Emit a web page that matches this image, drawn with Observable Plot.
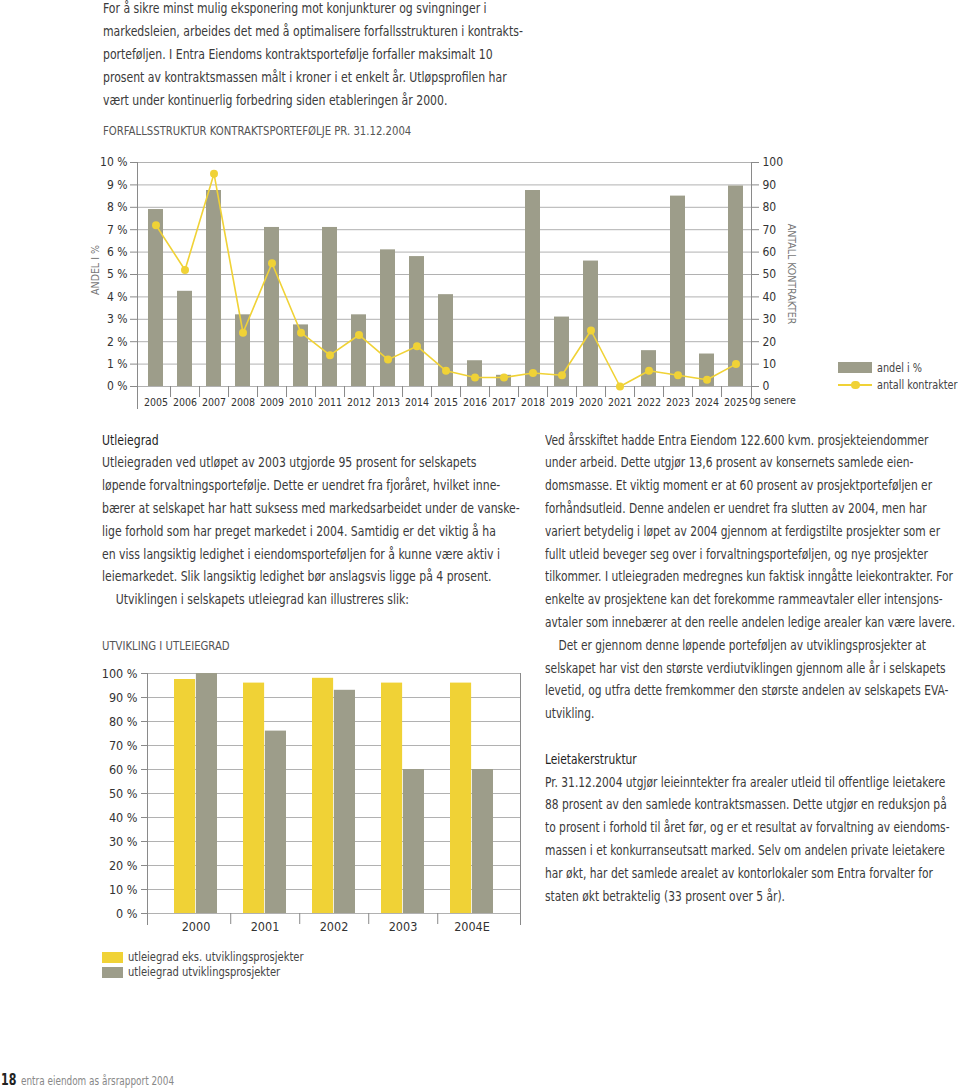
<!DOCTYPE html>
<html><head><meta charset="utf-8">
<script src="https://cdn.jsdelivr.net/npm/d3@7"></script>
<script src="https://cdn.jsdelivr.net/npm/@observablehq/plot@0.6"></script>
<style>
body{margin:0;background:#fff;}
#page{position:relative;width:960px;height:1091px;overflow:hidden;font-family:"Liberation Sans Narrow","DejaVu Sans Condensed","Arial Narrow",sans-serif;color:#3a3a3a;}
.blk{position:absolute;font-size:14px;line-height:22.8px;white-space:nowrap;transform:scaleX(0.865);transform-origin:0 0;}
.blkR{transform:scaleX(0.848);}
.head{color:#1e1e1e;}
.ind{padding-left:16px;}
.ctitle{position:absolute;font-size:13px;color:#555;white-space:nowrap;transform:scaleX(0.865);transform-origin:0 0;}
.abs{position:absolute;}
.lg{position:absolute;font-size:12.5px;color:#444;white-space:nowrap;line-height:14px;transform:scaleX(0.86);transform-origin:0 0;}
.lg2{transform:scaleX(0.885);}
.rot{position:absolute;font-size:10.5px;color:#777;white-space:nowrap;}
</style>
</head><body><div id="page">

<div class="blk" style="left:103px;top:-3px;line-height:23px;">
For å sikre minst mulig eksponering mot konjunkturer og svingninger i<br>
markedsleien, arbeides det med å optimalisere forfallsstrukturen i kontrakts-<br>
porteføljen. I Entra Eiendoms kontraktsportefølje forfaller maksimalt 10<br>
prosent av kontraktsmassen målt i kroner i et enkelt år. Utløpsprofilen har<br>
vært under kontinuerlig forbedring siden etableringen år 2000.
</div>

<div class="ctitle" style="left:103px;top:123px;">FORFALLSSTRUKTUR KONTRAKTSPORTEFØLJE PR. 31.12.2004</div>
<div class="rot" style="left:95px;top:270px;transform:translate(-50%,-50%) rotate(-90deg);">ANDEL I %</div>
<div class="rot" style="left:792px;top:274px;transform:translate(-50%,-50%) rotate(90deg);">ANTALL KONTRAKTER</div>

<div id="chart1" class="abs" style="left:0;top:150px;"></div>

<div class="abs" style="left:838px;top:362px;width:34px;height:11px;background:#9d9d8a;"></div>
<div class="lg" style="left:877px;top:361px;">andel i %</div>
<div class="abs" style="left:838px;top:384px;width:34px;height:1.6px;background:#f0d236;"></div>
<div class="abs" style="left:851px;top:380.5px;width:8.5px;height:8.5px;border-radius:50%;background:#f0d236;"></div>
<div class="lg" style="left:877px;top:378px;">antall kontrakter</div>

<div class="blk" style="left:102px;top:428.6px;">
<span class="head">Utleiegrad</span><br>
Utleiegraden ved utløpet av 2003 utgjorde 95 prosent for selskapets<br>
løpende forvaltningsportefølje. Dette er uendret fra fjoråret, hvilket inne-<br>
bærer at selskapet har hatt suksess med markedsarbeidet under de vanske-<br>
lige forhold som har preget markedet i 2004. Samtidig er det viktig å ha<br>
en viss langsiktig ledighet i eiendomsporteføljen for å kunne være aktiv i<br>
leiemarkedet. Slik langsiktig ledighet bør anslagsvis ligge på 4 prosent.<br>
<span class="ind">Utviklingen i selskapets utleiegrad kan illustreres slik:</span>
</div>

<div class="ctitle" style="left:102px;top:638px;">UTVIKLING I UTLEIEGRAD</div>
<div id="chart2" class="abs" style="left:0;top:660px;"></div>

<div class="abs" style="left:102px;top:952px;width:21px;height:11px;background:#f0d236;"></div>
<div class="lg lg2" style="left:128px;top:950px;">utleiegrad eks. utviklingsprosjekter</div>
<div class="abs" style="left:102px;top:967px;width:21px;height:11px;background:#9d9d8a;"></div>
<div class="lg lg2" style="left:128px;top:965px;">utleiegrad utviklingsprosjekter</div>

<div class="blk blkR" style="left:545px;top:428.6px;">
Ved årsskiftet hadde Entra Eiendom 122.600 kvm. prosjekteiendommer<br>
under arbeid. Dette utgjør 13,6 prosent av konsernets samlede eien-<br>
domsmasse. Et viktig moment er at 60 prosent av prosjektporteføljen er<br>
forhåndsutleid. Denne andelen er uendret fra slutten av 2004, men har<br>
variert betydelig i løpet av 2004 gjennom at ferdigstilte prosjekter som er<br>
fullt utleid beveger seg over i forvaltningsporteføljen, og nye prosjekter<br>
tilkommer. I utleiegraden medregnes kun faktisk inngåtte leiekontrakter. For<br>
enkelte av prosjektene kan det forekomme rammeavtaler eller intensjons-<br>
avtaler som innebærer at den reelle andelen ledige arealer kan være lavere.<br>
<span class="ind">Det er gjennom denne løpende porteføljen av utviklingsprosjekter at</span><br>
selskapet har vist den største verdiutviklingen gjennom alle år i selskapets<br>
levetid, og utfra dette fremkommer den største andelen av selskapets EVA-<br>
utvikling.<br>
<br>
<span class="head">Leietakerstruktur</span><br>
Pr. 31.12.2004 utgjør leieinntekter fra arealer utleid til offentlige leietakere<br>
88 prosent av den samlede kontraktsmassen. Dette utgjør en reduksjon på<br>
to prosent i forhold til året før, og er et resultat av forvaltning av eiendoms-<br>
massen i et konkurranseutsatt marked. Selv om andelen private leietakere<br>
har økt, har det samlede arealet av kontorlokaler som Entra forvalter for<br>
staten økt betraktelig (33 prosent over 5 år).
</div>

<div class="abs" style="left:1px;top:1071px;font-size:15px;font-weight:bold;color:#222;white-space:nowrap;transform:scaleX(0.82);transform-origin:0 0;">18</div>
<div class="abs" style="left:21px;top:1073px;font-size:12.5px;color:#888;white-space:nowrap;transform:scaleX(0.79);transform-origin:0 0;">entra eiendom as årsrapport 2004</div>

</div>
<script>
// ---- Chart 1 data: Forfallsstruktur kontraktsportefølje ----
const years = ["2005","2006","2007","2008","2009","2010","2011","2012","2013","2014","2015","2016","2017","2018","2019","2020","2021","2022","2023","2024","2025"];
const andel = [7.9, 4.25, 8.75, 3.2, 7.1, 2.75, 7.1, 3.2, 6.1, 5.8, 4.1, 1.15, 0.5, 8.75, 3.1, 5.6, 0, 1.6, 8.5, 1.45, 8.95];
const antall = [72, 52, 95, 24, 55, 24, 14, 23, 12, 18, 7, 4, 4, 6, 5, 25, 0, 7, 5, 3, 10];
const pctTicks = [0,1,2,3,4,5,6,7,8,9,10];
const lastLabelSuffix = "og senere";

// ---- Chart 2 data: Utvikling i utleiegrad ----
const utYears = ["2000","2001","2002","2003","2004E"];
const eksUtv = [97.5, 96, 98, 96, 96];
const medUtv = [100, 76, 93, 60, 60];
const utTicks = [0,10,20,30,40,50,60,70,80,90,100];

const YEL = "#f0d236", GRAY = "#9d9d8a", GRID = "#a8a8a8", AX = "#8a8a8a", TXT = "#333";
const FONT = '"Liberation Sans Narrow","DejaVu Sans Condensed","Arial Narrow",sans-serif';

// ---------- Chart 1 ----------
{
  const rows = years.map((y, i) => ({year: y, andel: andel[i], antall: antall[i]}));
  const W = 960, mL = 137, mR = 209, pi = 0.48, po = 0.31;
  const step = (W - mL - mR) / (years.length - pi + 2 * po);
  const chart = Plot.plot({
    width: W, height: 270,
    marginLeft: mL, marginRight: mR, marginTop: 12, marginBottom: 34,
    style: {fontFamily: FONT, fontSize: "12px", color: TXT, background: "transparent", overflow: "visible"},
    x: {type: "band", domain: years, paddingInner: pi, paddingOuter: po, align: 0.58, axis: null},
    y: {domain: [0, 10], axis: null},
    marks: [
      Plot.gridY(pctTicks, {stroke: GRID, strokeOpacity: 1, strokeWidth: 0.9}),
      Plot.barY(rows, {x: "year", y: "andel", fill: GRAY}),
      Plot.line(rows, {x: "year", y: d => d.antall / 10, stroke: YEL, strokeWidth: 1.6}),
      Plot.dot(rows, {x: "year", y: d => d.antall / 10, r: 4, fill: YEL}),
      Plot.frame({anchor: "left", stroke: AX, insetBottom: -22}),
      Plot.frame({anchor: "right", stroke: AX, insetBottom: -11}),
      Plot.axisY({anchor: "left", ticks: pctTicks, tickFormat: d => d + " %", tickSize: 7, tickPadding: 3, stroke: AX, fill: TXT, fontSize: 12, label: null}),
      Plot.axisY({anchor: "right", ticks: pctTicks, tickFormat: d => String(d * 10), tickSize: 7, tickPadding: 4, stroke: AX, fill: TXT, fontSize: 12, label: null}),
      Plot.axisX({ticks: years.slice(0, -1), tickSize: 11, dx: step / 2, stroke: AX, tickFormat: () => "", label: null}),
      Plot.axisX({ticks: years, tickSize: 0, tickPadding: 12, fill: TXT, fontSize: 10.5, label: null}),
      Plot.text([lastLabelSuffix], {x: () => years[years.length - 1], text: d => d, frameAnchor: "bottom", dy: 17, dx: 13, textAnchor: "start", fill: TXT, fontSize: 10.5})
    ]
  });
  document.getElementById("chart1").appendChild(chart);
}

// ---------- Chart 2 ----------
{
  const rows = utYears.map((y, i) => ({year: y, eks: eksUtv[i], utv: medUtv[i]}));
  const W = 960, mL = 147, mR = 440, p = 0.37;
  const step = (W - mL - mR) / (utYears.length - p + 2 * p);
  const half = step * (1 - p) / 2;
  const chart = Plot.plot({
    width: W, height: 280,
    marginLeft: mL, marginRight: mR, marginTop: 13, marginBottom: 27,
    style: {fontFamily: FONT, fontSize: "12.5px", color: TXT, background: "transparent", overflow: "visible"},
    x: {type: "band", domain: utYears, padding: p, axis: null},
    y: {domain: [0, 100], axis: null},
    marks: [
      Plot.gridY(utTicks, {stroke: GRID, strokeOpacity: 1, strokeWidth: 0.9}),
      Plot.barY(rows, {x: "year", y: "eks", fill: YEL, insetRight: half}),
      Plot.barY(rows, {x: "year", y: "utv", fill: GRAY, insetLeft: half}),
      Plot.frame({anchor: "left", stroke: AX, insetBottom: -11}),
      Plot.frame({anchor: "right", stroke: AX, insetBottom: -11}),
      Plot.axisY({anchor: "left", ticks: utTicks, tickFormat: d => d + " %", tickSize: 6, tickPadding: 4, stroke: AX, fill: TXT, fontSize: 12.5, label: null}),
      Plot.axisX({ticks: utYears.slice(0, -1), tickSize: 11, dx: step / 2, stroke: AX, tickFormat: () => "", label: null}),
      Plot.axisX({ticks: utYears, tickSize: 0, tickPadding: 9, fill: TXT, fontSize: 12.5, label: null})
    ]
  });
  document.getElementById("chart2").appendChild(chart);
}
</script>
</body></html>
